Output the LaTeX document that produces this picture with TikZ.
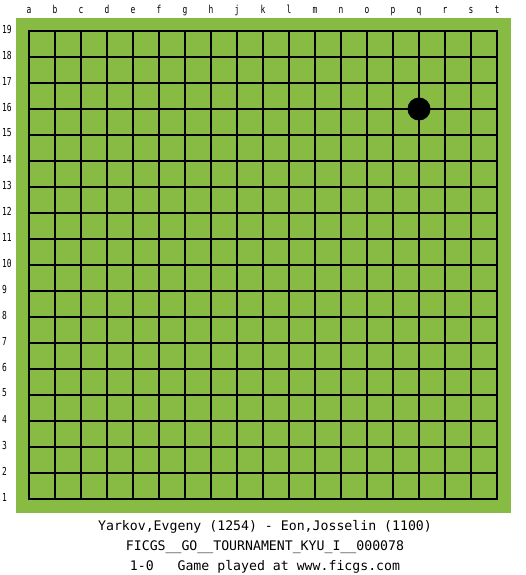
\documentclass[tikz,border=0pt]{standalone}
\usepackage{fontspec}
\setmonofont{DejaVu Sans Mono}
\definecolor{boardgreen}{RGB}{136,187,68}
\newcommand\smalllbl[1]{\scalebox{0.72}[1]{#1}}
\begin{document}
\begin{tikzpicture}[x=1pt,y=-1pt,
  lblfont/.style={font=\ttfamily\fontsize{11}{11}\selectfont, inner sep=0pt},
  capfont/.style={font=\ttfamily\fontsize{13.2}{14}\selectfont, inner sep=0pt, anchor=base},
  gridline/.style={line width=1.1pt, black, line cap=rect}]
\useasboundingbox (0,0) rectangle (525,575);
\fill[white] (0,0) rectangle (525,575);
\fill[boardgreen] (16,18) rectangle (511,513);
\foreach \i in {0,...,18} {
  \draw[gridline] (29+26*\i,31) -- (29+26*\i,499);
  \draw[gridline] (29,31+26*\i) -- (497,31+26*\i);
}
\foreach \l [count=\i from 0] in {a,b,c,d,e,f,g,h,j,k,l,m,n,o,p,q,r,s,t}
  \node[lblfont, anchor=base] (col\l) at (29+26*\i,14) {\smalllbl{\l}};
\foreach \n in {1,...,19}
  \node[lblfont, anchor=west] (row\n) at (2,{31+26*(19-\n)-2}) {\smalllbl{\n}};
\fill[black] (419,109) circle (11.5);
\node[capfont] (players) at (265,530) {Yarkov,Evgeny (1254) - Eon,Josselin (1100)};
\node[capfont] (event) at (265,550) {FICGS\_\_GO\_\_TOURNAMENT\_KYU\_I\_\_000078};
\node[capfont] (result) at (265,570) {1-0\ \ \ Game played at www.ficgs.com};
\end{tikzpicture}
\end{document}
